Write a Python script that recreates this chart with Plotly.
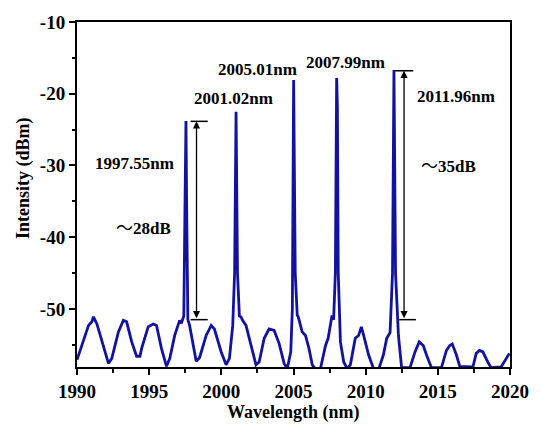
import plotly.graph_objects as go

# Spectrum
wavelength_nm = [
    1990.00, 1990.34, 1990.80, 1991.03, 1991.14, 1991.38, 1991.72, 1992.18, 1992.41, 1992.87,
    1993.21, 1993.44, 1993.79, 1994.13, 1994.36, 1994.48, 1994.93, 1995.28, 1995.51, 1995.85,
    1996.20, 1996.43, 1996.77, 1997.11, 1997.23, 1997.40, 1997.48, 1997.55, 1997.60, 1997.68,
    1997.80, 1998.03, 1998.26, 1998.49, 1998.95, 1999.30, 1999.52, 1999.99, 2000.33, 2000.56,
    2000.79, 2000.92, 2001.02, 2001.12, 2001.25, 2001.36, 2001.47, 2001.71, 2002.05, 2002.40,
    2002.62, 2002.97, 2003.31, 2003.66, 2004.00, 2004.35, 2004.57, 2004.81, 2004.92, 2005.01,
    2005.12, 2005.26, 2005.33, 2005.60, 2005.83, 2006.07, 2006.30, 2006.53, 2006.87, 2007.22,
    2007.40, 2007.56, 2007.67, 2007.78, 2007.90, 2007.99, 2008.04, 2008.10, 2008.25, 2008.48,
    2008.71, 2008.94, 2009.28, 2009.51, 2009.70, 2009.86, 2010.20, 2010.54, 2010.90, 2011.23,
    2011.46, 2011.69, 2011.86, 2011.96, 2012.07, 2012.27, 2012.49, 2013.07, 2013.42, 2013.71,
    2013.99, 2014.21, 2014.56, 2015.25, 2015.59, 2015.83, 2016.00, 2016.28, 2016.52, 2017.43,
    2017.66, 2017.89, 2018.12, 2018.46, 2018.69, 2019.38, 2019.96,
]
intensity_dbm = [
    -57.1, -55.0, -52.3, -51.8, -51.1, -52.1, -54.6, -57.6, -56.9, -53.2,
    -51.6, -51.8, -54.6, -56.6, -56.6, -55.5, -52.5, -52.1, -52.3, -55.5,
    -58.0, -56.9, -53.7, -51.6, -52.0, -51.0, -36.0, -23.8, -36.1, -51.5,
    -52.3, -55.1, -57.3, -56.8, -53.7, -52.3, -52.8, -56.0, -57.8, -56.9,
    -52.3, -45.0, -22.5, -45.0, -51.0, -51.1, -51.6, -52.3, -55.1, -57.8,
    -57.4, -54.1, -52.8, -53.0, -54.8, -57.6, -58.3, -56.0, -50.0, -18.1,
    -45.0, -50.9, -51.1, -53.2, -53.7, -55.5, -57.8, -58.4, -58.3, -55.1,
    -54.1, -52.3, -50.9, -51.5, -45.0, -17.8, -21.9, -45.0, -54.6, -57.4,
    -58.3, -57.8, -54.1, -53.7, -52.5, -53.7, -56.4, -58.3, -58.4, -56.4,
    -54.1, -53.3, -45.0, -16.7, -45.0, -53.7, -58.2, -58.2, -56.0, -54.6,
    -55.1, -56.4, -58.2, -58.2, -55.8, -55.1, -54.9, -56.4, -58.0, -58.1,
    -56.2, -55.8, -56.0, -57.4, -58.2, -58.1, -56.2,
]

peak_labels = ["1997.55nm", "2001.02nm", "2005.01nm", "2007.99nm", "2011.96nm"]
extinction_labels = ["28dB", "35dB"]
x_ticks = [1990, 1995, 2000, 2005, 2010, 2015, 2020]
y_ticks = [-10, -20, -30, -40, -50]

SERIF = "Times New Roman, Liberation Serif, serif"
BLUE = "#1212a2"

fig = go.Figure()
fig.add_trace(go.Scatter(
    x=wavelength_nm, y=intensity_dbm, mode="lines",
    line=dict(color=BLUE, width=2.8), hoverinfo="skip", showlegend=False,
))

ann_font = dict(family=SERIF, size=17, color="black", weight="bold")

# peak labels
label_pos = [(1993.98, -29.7), (2000.84, -20.6), (2002.52, -16.6), (2008.57, -15.6), (2016.28, -20.4)]
for txt, (lx, ly) in zip(peak_labels, label_pos):
    fig.add_annotation(x=lx, y=ly, text=txt, showarrow=False, font=ann_font,
                       xanchor="center", yanchor="middle")

tilde = "<span style=\"font-family:'Noto Sans CJK SC';font-weight:normal\">～</span>"
for txt, (lx, ly) in zip(extinction_labels, [(1994.63, -38.5), (2015.74, -29.8)]):
    fig.add_annotation(x=lx, y=ly, text=tilde + txt, showarrow=False, font=ann_font,
                       xanchor="center", yanchor="middle")

# double arrows with caps
arrows = [
    dict(x=1998.28, top=-23.85, bot=-51.5, top_cap=(1997.87, 1999.06), bot_cap=(1997.87, 1999.06)),
    dict(x=2012.66, top=-16.8, bot=-51.5, top_cap=(2012.04, 2013.30), bot_cap=(2012.33, 2013.48)),
]
for a in arrows:
    fig.add_annotation(x=a["x"], y=a["top"], ax=a["x"], ay=a["bot"], xref="x", yref="y",
                       axref="x", ayref="y", showarrow=True, arrowhead=2, arrowside="end+start",
                       arrowsize=1.1, arrowwidth=1.3, arrowcolor="black", text="",
                       standoff=0, startstandoff=0)
    fig.add_shape(type="line", x0=a["top_cap"][0], x1=a["top_cap"][1], y0=a["top"], y1=a["top"],
                  line=dict(color="black", width=1.5))
    fig.add_shape(type="line", x0=a["bot_cap"][0], x1=a["bot_cap"][1], y0=a["bot"], y1=a["bot"],
                  line=dict(color="black", width=1.5))

# axis titles
title_font = dict(family=SERIF, size=18, color="black", weight="bold")
fig.add_annotation(text="Wavelength (nm)", xref="paper", yref="paper", x=0.5, y=-0.132,
                   showarrow=False, font=title_font, xanchor="center", yanchor="middle")
fig.add_annotation(text="Intensity (dBm)", xref="paper", yref="y", x=-0.123, y=-31.8,
                   showarrow=False, font=title_font, textangle=-90,
                   xanchor="center", yanchor="middle")

tick_font = dict(family=SERIF, size=19, color="black", weight="bold")
common = dict(showgrid=False, zeroline=False, showline=True, linecolor="black", linewidth=2,
              mirror=True, ticks="outside", ticklen=6, tickwidth=2, tickcolor="black",
              tickfont=tick_font)
fig.update_xaxes(range=[1990, 2020], tickvals=x_ticks, ticktext=[str(v) for v in x_ticks],
                 minor=dict(ticks="outside", ticklen=3.5, tickwidth=2, dtick=2.5, tick0=1990,
                            tickcolor="black"),
                 **common)
fig.update_yaxes(range=[-58.1, -10], tickvals=y_ticks, ticktext=[str(v) for v in y_ticks],
                 minor=dict(ticks="outside", ticklen=3.5, tickwidth=2, dtick=5, tick0=-10,
                            tickcolor="black"),
                 **common)

fig.update_layout(width=541, height=424, margin=dict(l=77, r=29, t=15, b=57),
                  paper_bgcolor="white", plot_bgcolor="white", showlegend=False)

fig.write_html("out.html", config={"displayModeBar": False},
               post_script="document.body.style.margin='0';")
